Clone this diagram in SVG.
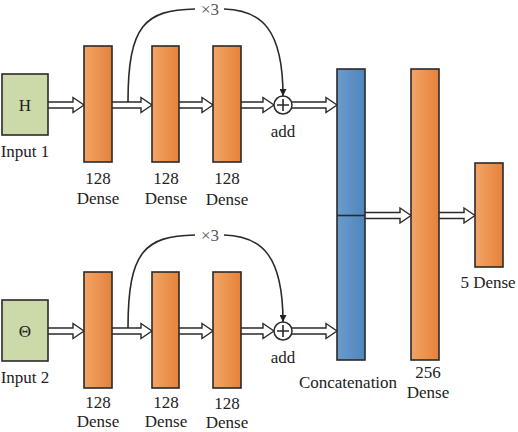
<svg xmlns="http://www.w3.org/2000/svg" width="518" height="432" viewBox="0 0 518 432">
<defs>
<linearGradient id="og" x1="0" y1="0" x2="1" y2="0">
<stop offset="0" stop-color="#F2A566"/>
<stop offset="1" stop-color="#E5823A"/>
</linearGradient>
<linearGradient id="bg" x1="0" y1="0" x2="1" y2="0">
<stop offset="0" stop-color="#6A9BCC"/>
<stop offset="1" stop-color="#4F86BD"/>
</linearGradient>
<marker id="ah" viewBox="0 0 10 10" refX="10" refY="5" markerWidth="7" markerHeight="7" markerUnits="userSpaceOnUse" orient="auto">
<path d="M0,0 L10,5 L0,10 Z" fill="#222"/>
</marker>
<style>
.box{stroke:#2a2a2a;stroke-width:1.6}
.dense{fill:url(#og)}
.inp{fill:#CCD9A9}
.cat{fill:url(#bg)}
.arr{fill:#fff;stroke:#2a2a2a;stroke-width:1.4;stroke-linejoin:miter}
.ln{fill:none;stroke:#2a2a2a;stroke-width:1.6}
text{font-family:"Liberation Serif","Times New Roman",serif;font-size:17px;fill:#222;text-anchor:middle}
.x3{fill:#555}
</style>
</defs>

<g id="connectors">
<polyline class="arr" points="48,102 73,102 73,97.5 84,105 73,112.5 73,108 48,108"/>
<polyline class="arr" points="112,102 141,102 141,97.5 152,105 141,112.5 141,108 112,108"/>
<polyline class="arr" points="179,102 202,102 202,97.5 213,105 202,112.5 202,108 179,108"/>
<polyline class="arr" points="241,102 263,102 263,97.5 274,105 263,112.5 263,108 241,108"/>
<polyline class="arr" points="292,102 326,102 326,97.5 337,105 326,112.5 326,108 292,108"/>
<path class="ln" d="M128,102 C128,25 145,10 195,9"/>
<path class="ln" d="M224,9 C262,10 283,30 283,96" marker-end="url(#ah)"/>

<polyline class="arr" points="48,328 73,328 73,323.5 84,331 73,338.5 73,334 48,334"/>
<polyline class="arr" points="112,328 141,328 141,323.5 152,331 141,338.5 141,334 112,334"/>
<polyline class="arr" points="179,328 202,328 202,323.5 213,331 202,338.5 202,334 179,334"/>
<polyline class="arr" points="241,328 263,328 263,323.5 274,331 263,338.5 263,334 241,334"/>
<polyline class="arr" points="292,328 326,328 326,323.5 337,331 326,338.5 326,334 292,334"/>
<path class="ln" d="M128,328 C128,251 145,236 195,235"/>
<path class="ln" d="M224,235 C262,236 283,256 283,322" marker-end="url(#ah)"/>

<polyline class="arr" points="365,212.5 400,212.5 400,208 411,215.5 400,223 400,218.5 365,218.5"/>
<polyline class="arr" points="439,212.5 464,212.5 464,208 475,215.5 464,223 464,218.5 439,218.5"/>
</g>

<text class="x3" x="210" y="15">×3</text>
<text class="x3" x="210" y="241">×3</text>

<g id="input1">
<rect class="box inp" x="2" y="74" width="46" height="61"/>
<text x="25" y="111">H</text>
<text x="25" y="157">Input 1</text>
</g>
<g id="input2">
<rect class="box inp" x="2" y="300" width="46" height="61"/>
<text x="25" y="337">Θ</text>
<text x="25" y="383">Input 2</text>
</g>

<g id="dense1a">
<rect class="box dense" x="84" y="46" width="28" height="116"/>
<text x="98" y="184">128</text><text x="98" y="204">Dense</text>
</g>
<g id="dense2a">
<rect class="box dense" x="152" y="46" width="27" height="116"/>
<text x="166" y="184">128</text><text x="166" y="204">Dense</text>
</g>
<g id="dense3a">
<rect class="box dense" x="213" y="46" width="28" height="116"/>
<text x="227" y="184">128</text><text x="227" y="205">Dense</text>
</g>
<g id="add1">
<circle cx="283" cy="105" r="9" fill="#fff" stroke="#2a2a2a" stroke-width="1.5"/>
<path class="ln" d="M277,105 H289 M283,99 V111"/>
<text x="283" y="137">add</text>
</g>

<g id="dense1b">
<rect class="box dense" x="84" y="272" width="28" height="116"/>
<text x="98" y="408">128</text><text x="98" y="427">Dense</text>
</g>
<g id="dense2b">
<rect class="box dense" x="152" y="272" width="27" height="116"/>
<text x="166" y="408">128</text><text x="166" y="427">Dense</text>
</g>
<g id="dense3b">
<rect class="box dense" x="213" y="272" width="28" height="116"/>
<text x="227" y="409">128</text><text x="227" y="428">Dense</text>
</g>
<g id="add2">
<circle cx="283" cy="331" r="9" fill="#fff" stroke="#2a2a2a" stroke-width="1.5"/>
<path class="ln" d="M277,331 H289 M283,325 V337"/>
<text x="283" y="363">add</text>
</g>

<g id="concat">
<rect class="box cat" x="337" y="69" width="28" height="291"/>
<line class="ln" x1="337" y1="215.5" x2="365" y2="215.5"/>
<text x="348" y="388">Concatenation</text>
</g>
<g id="dense256">
<rect class="box dense" x="411" y="69" width="28" height="291"/>
<text x="428" y="378">256</text><text x="428" y="398">Dense</text>
</g>
<g id="dense5">
<rect class="box dense" x="475" y="163" width="28" height="104"/>
<text x="488" y="288">5 Dense</text>
</g>
</svg>
